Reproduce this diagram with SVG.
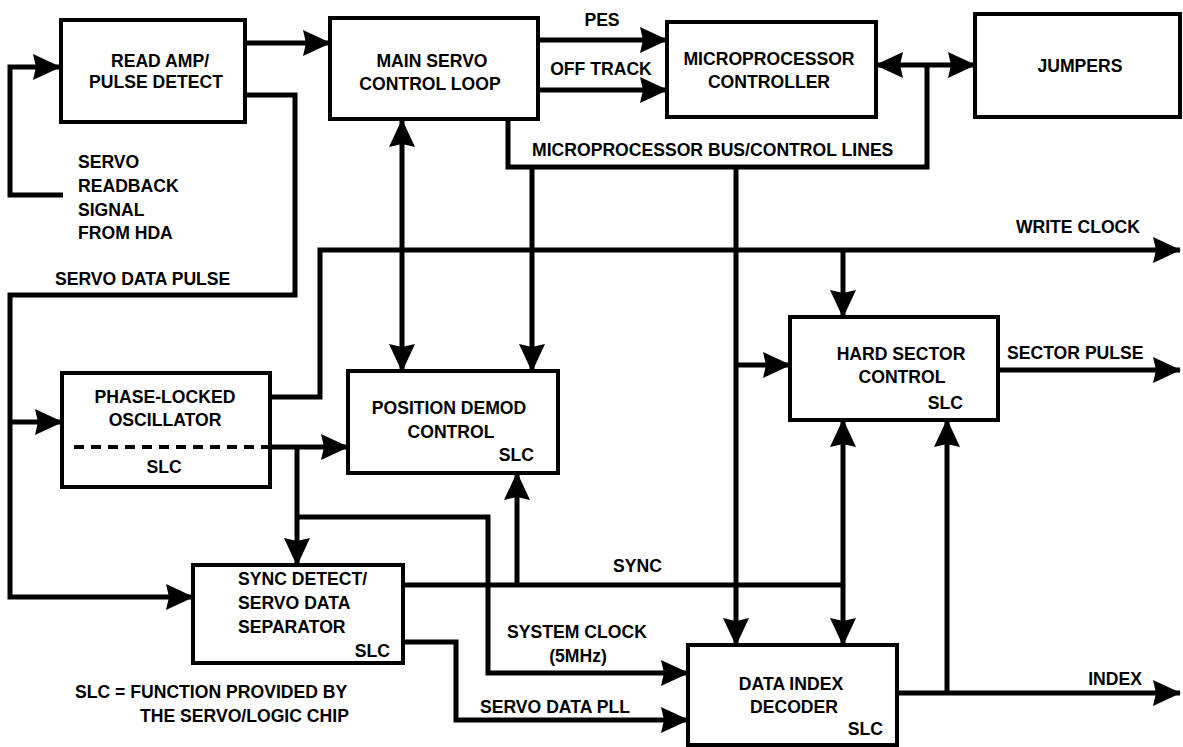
<svg xmlns="http://www.w3.org/2000/svg" width="1183" height="747" viewBox="0 0 1183 747">
<defs>
<marker id="ah" viewBox="0 0 28 26" refX="27" refY="13" markerWidth="28" markerHeight="26" markerUnits="userSpaceOnUse" orient="auto-start-reverse">
<path d="M0,0 L28,13 L0,26 L3,13 Z" fill="#000"/>
</marker>
</defs>
<style>
.box{fill:#fff;stroke:#000;stroke-width:4}
.ln{fill:none;stroke:#000;stroke-width:5;stroke-linejoin:miter}
.a{marker-end:url(#ah)}
.b{marker-start:url(#ah);marker-end:url(#ah)}
text{font-family:"Liberation Sans",Arial,sans-serif;font-weight:bold;font-size:17.6px;fill:#000}
.c{text-anchor:middle}
.r{text-anchor:end}
</style>
<rect width="1183" height="747" fill="#fff"/>
<g id="connectors">
<path class="ln a" d="M63,195 H10 V67 H60"/>
<path class="ln a" d="M245,43 H330"/>
<path class="ln a" d="M538,40 H667"/>
<path class="ln a" d="M538,90 H667"/>
<path class="ln b" d="M876,65 H975"/>
<path class="ln" d="M508,119 V167 H927 V65"/>
<path class="ln b" d="M402,120 V371"/>
<path class="ln a" d="M532,167 V371"/>
<path class="ln a" d="M736,167 V645"/>
<path class="ln a" d="M736,365 H790"/>
<path class="ln a" d="M245,95 H295 V295 H10 V597 H193"/>
<path class="ln a" d="M10,422 H62"/>
<path class="ln a" d="M270,397 H320 V250 H1180"/>
<path class="ln a" d="M843,250 V317"/>
<path class="ln a" d="M270,447 H348"/>
<path class="ln a" d="M297,447 V565"/>
<path class="ln a" d="M297,517 H488 V673 H688"/>
<path class="ln" d="M403,585 H843"/>
<path class="ln a" d="M517,585 V473"/>
<path class="ln b" d="M843,420 V645"/>
<path class="ln a" d="M998,370 H1180"/>
<path class="ln a" d="M897,693 H1180"/>
<path class="ln a" d="M947,693 V420"/>
<path class="ln a" d="M403,642 H456 V720 H688"/>
</g>
<g id="labels">
<text x="602" y="26" class="c">PES</text>
<text x="601" y="75" class="c">OFF TRACK</text>
<text x="532" y="156">MICROPROCESSOR BUS/CONTROL LINES</text>
<text x="1140" y="233" class="r">WRITE CLOCK</text>
<text x="78" y="168">SERVO</text>
<text x="78" y="192">READBACK</text>
<text x="78" y="216">SIGNAL</text>
<text x="78" y="239">FROM HDA</text>
<text x="55" y="285">SERVO DATA PULSE</text>
<text x="1007" y="359">SECTOR PULSE</text>
<text x="613" y="572">SYNC</text>
<text x="577" y="638" class="c">SYSTEM CLOCK</text>
<text x="578" y="662" class="c">(5MHz)</text>
<text x="480" y="713">SERVO DATA PLL</text>
<text x="1142" y="685" class="r">INDEX</text>
<text x="75" y="698">SLC = FUNCTION PROVIDED BY</text>
<text x="140" y="722">THE SERVO/LOGIC CHIP</text>
</g>
<g id="readamp">
<rect class="box" x="61" y="20" width="184" height="102"/>
<text x="160" y="67" class="c">READ AMP/</text>
<text x="156" y="88" class="c">PULSE DETECT</text>
</g>
<g id="mainservo">
<rect class="box" x="330" y="18" width="208" height="101"/>
<text x="432" y="67" class="c">MAIN SERVO</text>
<text x="430" y="90" class="c">CONTROL LOOP</text>
</g>
<g id="micro">
<rect class="box" x="667" y="22" width="209" height="95"/>
<text x="769" y="65" class="c">MICROPROCESSOR</text>
<text x="769" y="88" class="c">CONTROLLER</text>
</g>
<g id="jumpers">
<rect class="box" x="975" y="14" width="205" height="103"/>
<text x="1080" y="72" class="c">JUMPERS</text>
</g>
<g id="plo">
<rect class="box" x="62" y="373" width="208" height="114"/>
<text x="165" y="403" class="c">PHASE-LOCKED</text>
<text x="165" y="426" class="c">OSCILLATOR</text>
<line x1="74" y1="447" x2="268" y2="447" stroke="#000" stroke-width="4" stroke-dasharray="10,7"/>
<text x="164" y="473" class="c">SLC</text>
</g>
<g id="posdemod">
<rect class="box" x="348" y="371" width="210" height="102"/>
<text x="449" y="414" class="c">POSITION DEMOD</text>
<text x="451" y="438" class="c">CONTROL</text>
<text x="534" y="461" class="r">SLC</text>
</g>
<g id="hardsector">
<rect class="box" x="790" y="317" width="208" height="103"/>
<text x="901" y="360" class="c">HARD SECTOR</text>
<text x="902" y="383" class="c">CONTROL</text>
<text x="963" y="409" class="r">SLC</text>
</g>
<g id="syncdetect">
<rect class="box" x="193" y="565" width="210" height="98"/>
<text x="238" y="585">SYNC DETECT/</text>
<text x="238" y="609">SERVO DATA</text>
<text x="238" y="633">SEPARATOR</text>
<text x="390" y="657" class="r">SLC</text>
</g>
<g id="dataindex">
<rect class="box" x="688" y="645" width="209" height="100"/>
<text x="791" y="690" class="c">DATA INDEX</text>
<text x="794" y="713" class="c">DECODER</text>
<text x="883" y="735" class="r">SLC</text>
</g>
</svg>
